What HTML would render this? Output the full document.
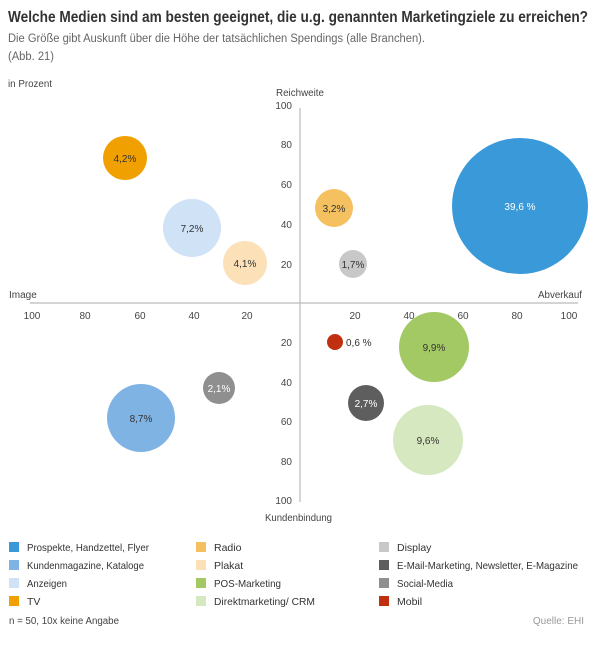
<!DOCTYPE html>
<html><head><meta charset="utf-8"><style>
body{margin:0;background:#fff;font-family:"Liberation Sans",sans-serif;}
</style></head><body>
<svg width="600" height="640" xmlns="http://www.w3.org/2000/svg" font-family="Liberation Sans, sans-serif">
<text x="8" y="22" font-size="15.5" font-weight="bold" fill="#333" textLength="580" lengthAdjust="spacingAndGlyphs">Welche Medien sind am besten geeignet, die u.g. genannten Marketingziele zu erreichen?</text>
<text x="8" y="42" font-size="11.5" fill="#666" textLength="417" lengthAdjust="spacingAndGlyphs">Die Größe gibt Auskunft über die Höhe der tatsächlichen Spendings (alle Branchen).</text>
<text x="8" y="60" font-size="11.5" fill="#666" textLength="46" lengthAdjust="spacingAndGlyphs">(Abb. 21)</text>
<text x="8" y="87" font-size="10" fill="#444" textLength="44" lengthAdjust="spacingAndGlyphs">in Prozent</text>
<text x="276" y="96" font-size="10" fill="#444" textLength="48" lengthAdjust="spacingAndGlyphs">Reichweite</text>
<text x="265" y="521" font-size="10" fill="#444" textLength="67" lengthAdjust="spacingAndGlyphs">Kundenbindung</text>
<text x="9" y="298" font-size="10" fill="#444">Image</text>
<text x="538" y="298" font-size="10" fill="#444" textLength="44" lengthAdjust="spacingAndGlyphs">Abverkauf</text>
<line x1="300" y1="108" x2="300" y2="502" stroke="#bbb" stroke-width="1.2"/>
<line x1="30" y1="303" x2="578" y2="303" stroke="#bbb" stroke-width="1.2"/>
<g font-size="10" fill="#444" text-anchor="middle">
<text x="32" y="319">100</text><text x="85" y="319">80</text><text x="140" y="319">60</text><text x="194" y="319">40</text><text x="247" y="319">20</text>
<text x="355" y="319">20</text><text x="409" y="319">40</text><text x="463" y="319">60</text><text x="517" y="319">80</text><text x="569" y="319">100</text>
</g>
<g font-size="10" fill="#444" text-anchor="end">
<text x="292" y="109">100</text><text x="292" y="148">80</text><text x="292" y="188">60</text><text x="292" y="228">40</text><text x="292" y="268">20</text>
<text x="292" y="346">20</text><text x="292" y="386">40</text><text x="292" y="425">60</text><text x="292" y="465">80</text><text x="292" y="504">100</text>
</g>
<circle cx="520" cy="206" r="68" fill="#3a9ad9"/>
<circle cx="125" cy="158" r="22" fill="#f0a000"/>
<circle cx="192" cy="228" r="29" fill="#cfe2f6"/>
<circle cx="245" cy="263" r="22" fill="#fbe0b8"/>
<circle cx="334" cy="208" r="19" fill="#f5c060"/>
<circle cx="353" cy="264" r="14" fill="#c8c8c8"/>
<circle cx="335" cy="342" r="8" fill="#c03010"/>
<circle cx="434" cy="347" r="35" fill="#a3c964"/>
<circle cx="366" cy="403" r="18" fill="#5e5e5e"/>
<circle cx="428" cy="440" r="35" fill="#d6e8bf"/>
<circle cx="219" cy="388" r="16" fill="#8f8f8f"/>
<circle cx="141" cy="418" r="34" fill="#7fb3e3"/>
<g font-size="10" text-anchor="middle" fill="#333">
<text x="520" y="210" fill="#fff">39,6 %</text>
<text x="125" y="162">4,2%</text>
<text x="192" y="232">7,2%</text>
<text x="245" y="267">4,1%</text>
<text x="334" y="212">3,2%</text>
<text x="353" y="268">1,7%</text>
<text x="434" y="351">9,9%</text>
<text x="366" y="407" fill="#fff">2,7%</text>
<text x="428" y="444">9,6%</text>
<text x="219" y="392" fill="#fff">2,1%</text>
<text x="141" y="422">8,7%</text>
</g>
<text x="346" y="346" font-size="10" fill="#333">0,6 %</text>
<g font-size="10.5" fill="#333" lengthAdjust="spacingAndGlyphs">
<rect x="9" y="542" width="10" height="10" fill="#3a9ad9"/><text x="27" y="551" textLength="122" lengthAdjust="spacingAndGlyphs">Prospekte, Handzettel, Flyer</text>
<rect x="9" y="560" width="10" height="10" fill="#7fb3e3"/><text x="27" y="569" textLength="117" lengthAdjust="spacingAndGlyphs">Kundenmagazine, Kataloge</text>
<rect x="9" y="578" width="10" height="10" fill="#cfe2f6"/><text x="27" y="587" textLength="40" lengthAdjust="spacingAndGlyphs">Anzeigen</text>
<rect x="9" y="596" width="10" height="10" fill="#f0a000"/><text x="27" y="605">TV</text>
<rect x="196" y="542" width="10" height="10" fill="#f5c060"/><text x="214" y="551">Radio</text>
<rect x="196" y="560" width="10" height="10" fill="#fbe0b8"/><text x="214" y="569">Plakat</text>
<rect x="196" y="578" width="10" height="10" fill="#a3c964"/><text x="214" y="587" textLength="67" lengthAdjust="spacingAndGlyphs">POS-Marketing</text>
<rect x="196" y="596" width="10" height="10" fill="#d6e8bf"/><text x="214" y="605" textLength="101" lengthAdjust="spacingAndGlyphs">Direktmarketing/ CRM</text>
<rect x="379" y="542" width="10" height="10" fill="#c8c8c8"/><text x="397" y="551">Display</text>
<rect x="379" y="560" width="10" height="10" fill="#5e5e5e"/><text x="397" y="569" textLength="181" lengthAdjust="spacingAndGlyphs">E-Mail-Marketing, Newsletter, E-Magazine</text>
<rect x="379" y="578" width="10" height="10" fill="#8f8f8f"/><text x="397" y="587" textLength="56" lengthAdjust="spacingAndGlyphs">Social-Media</text>
<rect x="379" y="596" width="10" height="10" fill="#c03010"/><text x="397" y="605">Mobil</text>
</g>
<text x="9" y="624" font-size="10" fill="#444" textLength="110" lengthAdjust="spacingAndGlyphs">n = 50, 10x keine Angabe</text>
<text x="584" y="624" font-size="10" fill="#999" text-anchor="end">Quelle: EHI</text>
</svg>
</body></html>
